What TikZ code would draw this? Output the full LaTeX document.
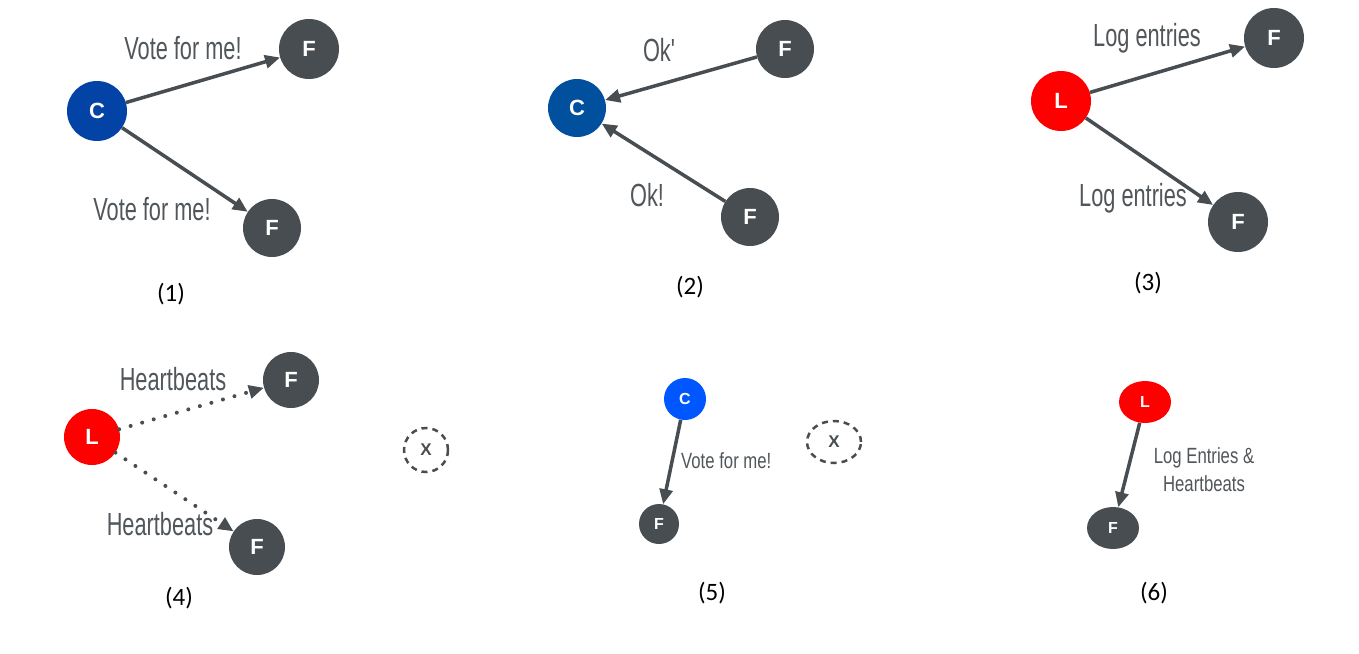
\documentclass[tikz,border=0pt]{standalone}
\usepackage{fontspec}
\setmainfont{Carlito}
\newfontfamily\msgfont[FakeStretch=0.68]{Liberation Sans}
\newfontfamily\smallmsgfont[FakeStretch=0.76]{Liberation Sans}
\newfontfamily\nodefont{Liberation Sans}
\usetikzlibrary{arrows.meta, positioning, shapes.geometric}
\definecolor{candblue}{HTML}{0343A6}
\definecolor{candmid}{HTML}{00509E}
\definecolor{candlight}{HTML}{0057FF}
\definecolor{leadred}{HTML}{FF0000}
\definecolor{folgray}{HTML}{474D50}
\definecolor{txtgray}{HTML}{50565A}

\tikzset{
    srv/.style={circle, inner sep=0pt, minimum size=60pt, text=white,
        font=\nodefont\bfseries\fontsize{22}{22}\selectfont},
    small/.style={minimum size=42pt, font=\nodefont\bfseries\fontsize{16}{16}\selectfont},
    cand/.style={srv, fill=candblue},
    fol/.style={srv, fill=folgray},
    lead/.style={srv, fill=leadred},
    down/.style={circle, draw=folgray, dashed, line width=2.5pt, dash pattern=on 6pt off 5pt,
        minimum size=44pt, inner sep=0pt, text=folgray,
        font=\nodefont\bfseries\fontsize{17}{17}\selectfont},
    msg/.style={text=txtgray, inner sep=0pt, font=\msgfont\fontsize{32}{32}\selectfont},
    smallmsg/.style={msg, font=\smallmsgfont\fontsize{22}{28}\selectfont, align=center},
    rpc/.style={draw=folgray, line width=3.5pt, -{Triangle[length=15pt,width=13pt]}},
    beat/.style={rpc, line cap=round, dash pattern=on 0pt off 12pt, line width=4pt},
    step label/.style={font=\fontsize{25}{25}\selectfont}
}

\begin{document}
\begin{tikzpicture}[x=1pt, y=-1pt]
    \useasboundingbox (0,0) rectangle (1359,653);

    % (1) candidate asks for votes
    \node[cand] (c1) at (97,111) {C};
    \node[fol, minimum size=60pt] (f1a) at (309,49) {F};
    \node[fol, minimum size=58pt] (f1b) at (272,228) {F};
    \draw[rpc] (c1) -- (f1a);
    \draw[rpc] (c1) -- (f1b);
    \node[msg] (m1a) at (183,48) {Vote for me!};
    \node[msg] (m1b) at (152,209) {Vote for me!};
    \node[step label] (s1) at (171,294) {(1)};

    % (2) followers grant votes
    \node[cand, fill=candmid, minimum size=58pt] (c2) at (577,108) {C};
    \node[fol, minimum size=58pt] (f2a) at (785,49) {F};
    \node[fol, minimum size=58pt] (f2b) at (750,217) {F};
    \draw[rpc] (f2a) -- (c2);
    \draw[rpc] (f2b) -- (c2);
    \node[msg] (m2a) at (659,50) {Ok'};
    \node[msg] (m2b) at (647,195) {Ok!};
    \node[step label] (s2) at (690,287) {(2)};

    % (3) leader replicates entries
    \node[lead] (l3) at (1061,101) {L};
    \node[fol] (f3a) at (1274,38) {F};
    \node[fol] (f3b) at (1238,222) {F};
    \draw[rpc] (l3) -- (f3a);
    \draw[rpc] (l3) -- (f3b);
    \node[msg] (m3a) at (1147,38) {Log entries};
    \node[msg] (m3b) at (1133,198) {Log entries};
    \node[step label] (s3) at (1148,283) {(3)};

    % (4) heartbeats, one server down
    \node[lead, minimum size=56pt] (l4) at (92,437) {L};
    \node[fol, minimum size=56pt] (f4a) at (291,380) {F};
    \node[fol, minimum size=56pt] (f4b) at (257,547) {F};
    \node[down] (x4) at (426,450) {X};
    \draw[beat] (l4) -- (f4a);
    \draw[beat] (l4) -- (f4b);
    \node[msg] (m4a) at (173,379) {Heartbeats};
    \node[msg] (m4b) at (160,524) {Heartbeats};
    \node[step label] (s4) at (179,598) {(4)};

    % (5) new election
    \node[cand, small, fill=candlight] (c5) at (685,399) {C};
    \node[fol, small, minimum size=40pt] (f5) at (659,524) {F};
    \node[down, ellipse, minimum width=54pt, minimum height=42pt] (x5) at (834,442) {X};
    \draw[rpc] (c5) -- (f5);
    \node[smallmsg, anchor=west] (m5) at (681,461) {Vote for me!};
    \node[step label] (s5) at (712,593) {(5)};

    % (6) new leader
    \node[lead, small, ellipse, minimum width=52pt, minimum height=42pt] (l6) at (1145,402) {L};
    \node[fol, small, ellipse, minimum width=52pt, minimum height=42pt] (f6) at (1113,528) {F};
    \draw[rpc] (l6) -- (f6);
    \node[smallmsg] (m6) at (1204,470) {Log Entries \&\\Heartbeats};
    \node[step label] (s6) at (1154,593) {(6)};
\end{tikzpicture}
\end{document}
